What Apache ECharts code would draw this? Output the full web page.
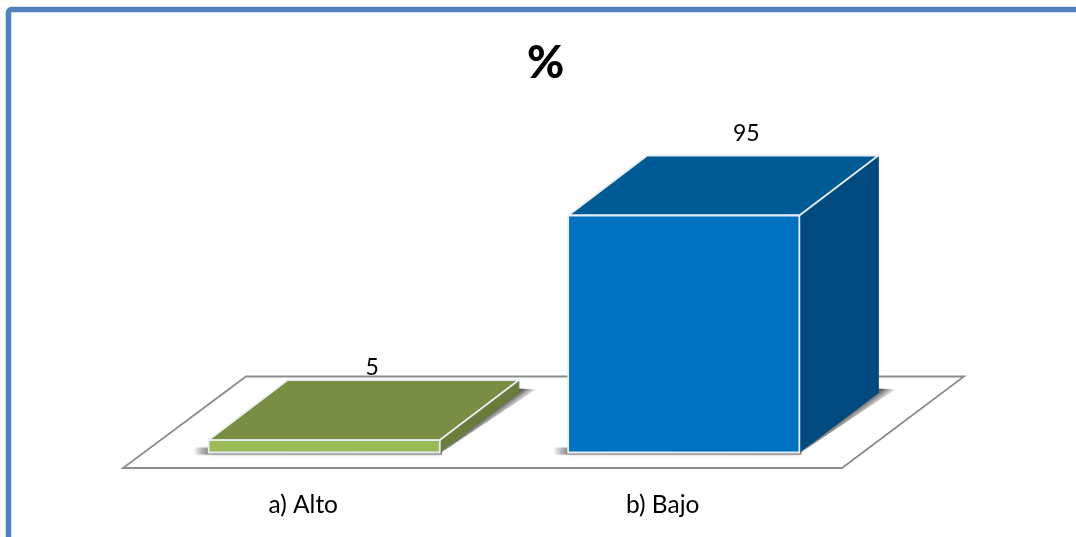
<!DOCTYPE html>
<html><head><meta charset="utf-8">
<style>html,body{margin:0;padding:0;background:#fff}#c{width:1076px;height:537px}</style>
<script src="https://cdn.jsdelivr.net/npm/echarts@6/dist/echarts.min.js"></script>
</head><body><div id="c"></div>
<script>
const categories = ['a) Alto', 'b) Bajo'];
const values = [5, 95];
const titleText = '%';

const FONT = 'Lato, "Open Sans", sans-serif';
const DEPTH_X = 79, DEPTH_Y = 60;
const palette = [
  {front:'#9BBB59', top:'#778E43', side:'#687C3B'},
  {front:'#0070C0', top:'#005A94', side:'#004A80'}
];
const labelShiftX = [48, 62.5];
const labelShiftY = [12, 22];

function renderBar(params, api){
  const i = api.value(0), v = api.value(1);
  const top = api.coord([i, v]), base = api.coord([i, 0]);
  const w = api.size([1, 0])[0] * 0.643;
  const l = top[0] - w/2, r = top[0] + w/2, t = top[1], b = base[1];
  const c = palette[i];
  const edge = {stroke:'#E8EEF3', lineWidth:1.8, lineJoin:'round'};
  const px = r+DEPTH_X, py = b-DEPTH_Y;
  return {type:'group', children:[
    {type:'polygon', shape:{points:[[l-15,b+2],[r+2,b+2],[r+2,b-5],[l-15,b-5]]},
      style:{fill:{type:'linear',x:0,y:0,x2:1,y2:0,colorStops:[
        {offset:0,color:'rgba(110,110,110,0)'},{offset:0.07,color:'rgba(110,110,110,0.8)'},{offset:1,color:'rgba(110,110,110,0.9)'}]},
        shadowBlur:2, shadowColor:'rgba(120,120,120,0.6)'}},
    {type:'polygon', shape:{points:[[r,b+1],[px+17,py-3],[px,py-4]]},
      style:{fill:{type:'linear',global:true,x:px,y:py,x2:px+6,y2:py+8,colorStops:[
        {offset:0,color:'rgba(70,70,70,0.85)'},{offset:1,color:'rgba(120,120,120,0)'}]}}},
    {type:'polygon', shape:{points:[[r,t],[px,t-DEPTH_Y],[px,py],[r,b]]},
      style:{fill:c.side, stroke:c.side, lineWidth:1}},
    {type:'polygon', shape:{points:[[l,t],[l+DEPTH_X,t-DEPTH_Y],[px,t-DEPTH_Y],[r,t]]},
      style:Object.assign({fill:c.top}, edge)},
    {type:'polygon', shape:{points:[[l,t],[r,t],[r,b],[l,b]]},
      style:Object.assign({fill:c.front}, edge)},
    {type:'text', x:top[0]+labelShiftX[i], y:t-DEPTH_Y-labelShiftY[i],
      style:{text:String(v), fill:'#000', font:'23px '+FONT, align:'center', verticalAlign:'middle'}}
  ]};
}

const chart = echarts.init(document.getElementById('c'), null, {renderer:'canvas'});
chart.setOption({
  animation:false,
  backgroundColor:'#fff',
  title:{text:titleText, left:522, top:36,
    textStyle:{fontFamily:FONT, fontWeight:900, fontSize:45, color:'#000'}},
  grid:{left:144.5, width:719, top:203, height:249.5},
  xAxis:{type:'category', data:categories,
    axisLine:{show:false}, axisTick:{show:false},
    axisLabel:{color:'#000', fontFamily:FONT, fontSize:24.5, margin:40, padding:[0,42,0,0]}},
  yAxis:{type:'value', min:0, max:100, show:false},
  graphic:[
    {type:'polygon', z:-1, silent:true, shape:{points:[[123,468],[842,468],[964,376.5],[246,376.5]]},
      style:{fill:'#fff', stroke:'#8C8C8C', lineWidth:1.8}},
    {type:'rect', z:-1, silent:true, shape:{x:8.5, y:9.5, width:1100, height:560, r:3},
      style:{fill:'none', stroke:'#4F81BD', lineWidth:5.5}}
  ],
  series:[{type:'custom', coordinateSystem:'cartesian2d', clip:false,
    data:values.map((v,i)=>[i,v]), encode:{x:0,y:1}, renderItem:renderBar}]
});
</script></body></html>
